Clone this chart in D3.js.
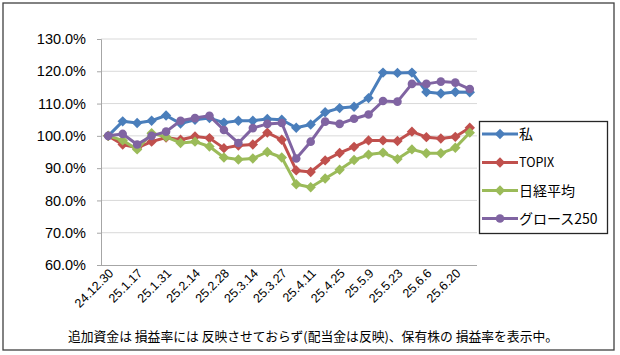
<!DOCTYPE html>
<html><head><meta charset="utf-8">
<script src="https://cdn.jsdelivr.net/npm/d3@7/dist/d3.min.js"></script>
<style>
html,body{margin:0;padding:0;background:#fff;}
svg{display:block;}
</style></head>
<body>
<svg id="chart" width="620" height="355"></svg>
<script>
const categories = ["24.12.30","25.1.10","25.1.17","25.1.24","25.1.31","25.2.7","25.2.14","25.2.21","25.2.28","25.3.7","25.3.14","25.3.21","25.3.27","25.4.4","25.4.11","25.4.18","25.4.25","25.5.2","25.5.9","25.5.16","25.5.23","25.5.30","25.6.6","25.6.13","25.6.20","25.6.27"];
const shownLabels = ["24.12.30","25.1.17","25.1.31","25.2.14","25.2.28","25.3.14","25.3.27","25.4.11","25.4.25","25.5.9","25.5.23","25.6.6","25.6.20"];
const seriesNames = ["私","TOPIX","日経平均","グロース250"];
const watashi = [100,104.5,104.0,104.7,106.3,103.8,105.0,105.5,104.1,104.7,104.7,105.2,105.0,102.5,103.5,107.3,108.6,109.0,111.7,119.6,119.5,119.6,113.6,113.1,113.6,113.5];
const topix = [100,97.3,96.3,98.2,99.5,98.8,99.8,99.3,96.2,97.0,97.3,101.0,98.8,89.3,88.8,92.4,94.7,96.6,98.6,98.6,98.4,101.3,99.6,99.2,99.7,102.5];
const nikkei = [100,98.6,95.8,100.8,99.7,97.8,98.2,96.7,93.3,92.7,93.0,95.0,93.3,85.0,84.1,86.8,89.5,92.5,94.2,94.8,92.8,95.8,94.6,94.6,96.3,101.0];
const growth = [100,100.6,97.3,100.0,101.3,104.7,105.5,106.2,101.8,97.8,102.4,103.7,104.0,93.0,98.2,104.4,103.7,105.3,106.6,110.8,110.6,116.1,116.1,116.8,116.5,114.5];
const yTicks = [60,70,80,90,100,110,120,130];
const footnote = "追加資金は 損益率には 反映させておらず(配当金は反映)、保有株の 損益率を表示中。";

(function(){
const seriesValues = [watashi, topix, nikkei, growth];
const colors = ["#4A7EBB","#C0504D","#9BBB59","#8064A2"];
const markers = ["diamond","diamond","diamond","circle"];

const svg = d3.select("#chart");
const pL = 101, pR = 477, pT = 39, pB = 265;

svg.append("rect").attr("x",3).attr("y",3).attr("width",611).attr("height",347)
  .attr("fill","#fff").attr("stroke","#404040").attr("stroke-width",1.3);

const x = d3.scaleBand().domain(categories).range([pL,pR]).paddingInner(0).paddingOuter(0);
const y = d3.scaleLinear().domain([60,130]).range([pB,pT]);
const cx = d => x(d) + x.bandwidth()/2;

svg.append("g").selectAll("line").data(yTicks.filter(t=>t>60)).join("line")
  .attr("x1",pL).attr("x2",pR).attr("y1",d=>y(d)).attr("y2",d=>y(d))
  .attr("stroke","#d9d9d9").attr("stroke-width",1);

const yAxis = svg.append("g").attr("transform",`translate(${pL},0)`)
  .call(d3.axisLeft(y).tickValues(yTicks).tickFormat(d=>d.toFixed(1)+"%").tickSize(4).tickPadding(11));
yAxis.select(".domain").attr("stroke","#a6a6a6");
yAxis.selectAll(".tick line").attr("stroke","#a6a6a6");
yAxis.selectAll("text").attr("font-family","Liberation Sans, Arial, sans-serif").attr("font-size","14.5px").attr("fill","#000");

const xAxis = svg.append("g").attr("transform",`translate(0,${pB})`)
  .call(d3.axisBottom(x).tickValues(shownLabels).tickSize(0).tickPadding(0));
xAxis.select(".domain").attr("stroke","#a6a6a6").attr("d",`M${pL},0.5H${pR}`);
xAxis.selectAll(".tick text")
  .attr("font-family","Liberation Sans, Arial, sans-serif").attr("font-size","12.5px").attr("fill","#000")
  .attr("text-anchor","end").attr("dy","0")
  .attr("transform","translate(6,9) rotate(-45)");

const line = d3.line().x((d,i)=>cx(categories[i])).y(d=>y(d));
function drawMarker(g, type, color, px, py){
  if(type==="circle"){
    g.append("circle").attr("cx",px).attr("cy",py).attr("r",4.3).attr("fill",color);
  } else {
    const s = 5.2;
    g.append("path").attr("d",`M${px},${py-s}L${px+s},${py}L${px},${py+s}L${px-s},${py}Z`).attr("fill",color);
  }
}
seriesValues.forEach((vals,k)=>{
  const g = svg.append("g");
  g.append("path").datum(vals).attr("d",line).attr("fill","none")
    .attr("stroke",colors[k]).attr("stroke-width",3).attr("stroke-linejoin","round");
  vals.forEach((v,i)=>drawMarker(g, markers[k], colors[k], cx(categories[i]), y(v)));
});

const lg = svg.append("g");
lg.append("rect").attr("x",479.5).attr("y",121.5).attr("width",128).attr("height",112)
  .attr("fill","#fff").attr("stroke","#262626").attr("stroke-width",1.3);
const legY = [134,162.5,190.5,218.5];
seriesNames.forEach((n,k)=>{
  lg.append("line").attr("x1",482).attr("x2",518).attr("y1",legY[k]).attr("y2",legY[k])
    .attr("stroke",colors[k]).attr("stroke-width",3);
  drawMarker(lg, markers[k], colors[k], 500, legY[k]);
  lg.append("text").attr("x",519).attr("y",legY[k]).attr("dy","0.36em")
    .attr("font-family","Noto Sans CJK JP, sans-serif")
    .attr("font-size", n==="TOPIX" ? "12.5px" : "14px").attr("fill","#000").text(n);
});

svg.append("text").attr("x",313).attr("y",337).attr("dy","0.35em").attr("text-anchor","middle")
  .attr("font-family","Noto Sans CJK JP, sans-serif").attr("font-size","12.8px").attr("fill","#000")
  .text(footnote);
})();
</script>
</body></html>
